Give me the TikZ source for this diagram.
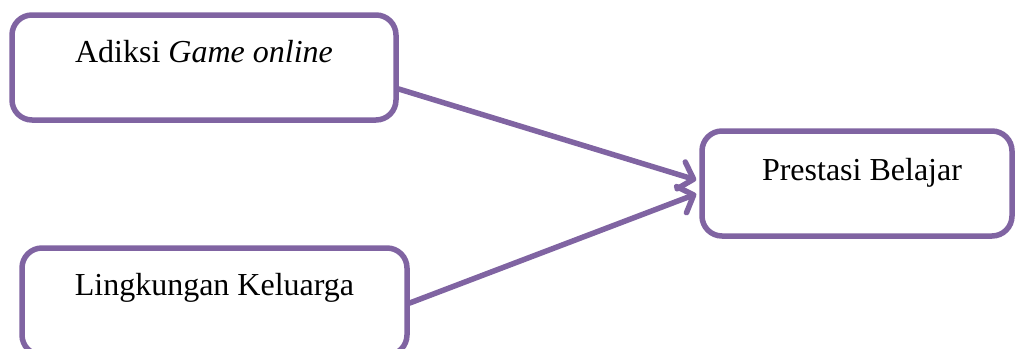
\documentclass[tikz,border=0pt]{standalone}
\usepackage{fontspec}
\setmainfont{Liberation Serif}
\usetikzlibrary{arrows.meta,calc}
\definecolor{boxpurple}{RGB}{128,100,162}
\begin{document}
\begin{tikzpicture}[x=1pt,y=-1pt,
  box/.style={draw=boxpurple, line width=5.5pt, rounded corners=20pt,
    inner sep=0pt, align=center,
    font=\fontsize{32pt}{38pt}\selectfont},
  link/.style={draw=boxpurple, line width=5.5pt, line cap=round,
    -{Straight Barb[length=13pt,width=28pt,line cap=round,round]}}]
\useasboundingbox (0,0) rectangle (1017,348);
\node[box, minimum width=384pt, text height=47pt, text depth=58pt]
  (adiksi) at (204,67.5) {Adiksi \textit{Game online}};
\node[box, minimum width=385pt, text height=47pt, text depth=60pt]
  (keluarga) at (214.5,301.5) {Lingkungan Keluarga};
\node[box, minimum width=310pt, text height=49pt, text depth=56pt]
  (prestasi) at (857,183.5) {\hspace*{10pt}Prestasi Belajar};
\draw[link] ($(adiksi.east)+(0,21.5)$) -- ($(prestasi.west)+(-3,-3.5)$);
\draw[link] ($(keluarga.east)+(0,1.5)$) -- ($(prestasi.west)+(-3,10.5)$);
\end{tikzpicture}
\end{document}
